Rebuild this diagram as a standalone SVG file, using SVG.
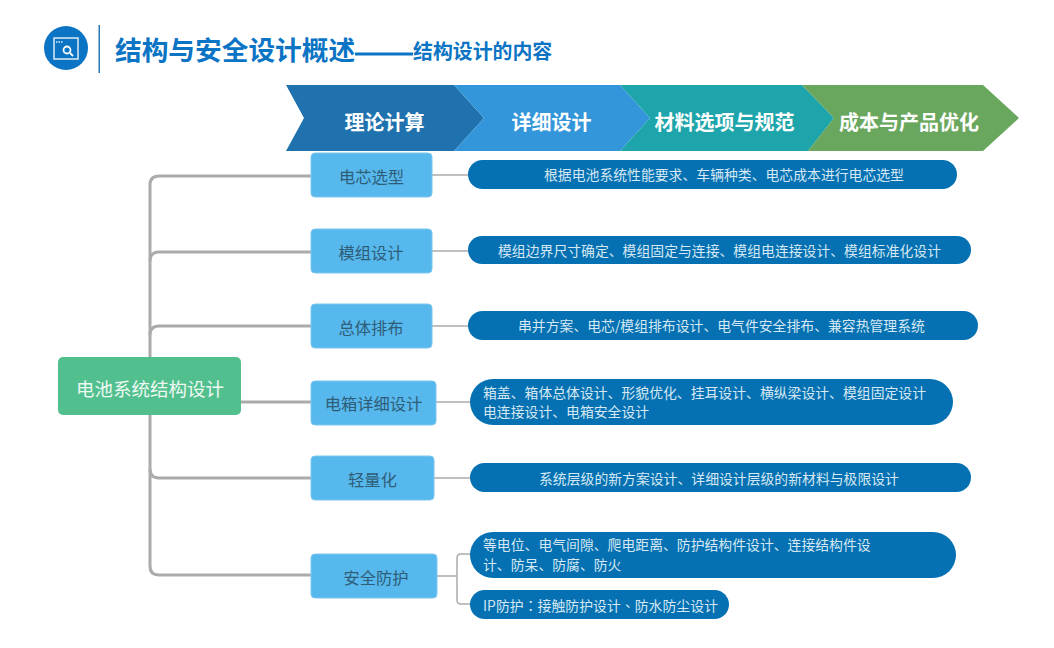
<svg xmlns="http://www.w3.org/2000/svg" width="1054" height="648" viewBox="0 0 1054 648">
<style>
text{font-family:"Noto Sans CJK SC","Liberation Sans",sans-serif}
.n{fill:#56b8ec;stroke:#7cc6ee;stroke-width:1}
.nt{font-size:16.3px;fill:#2f5d78;text-anchor:middle}
.p{fill:#0571b2}
.pt{font-size:13.85px;fill:#d6e8f3}
.c{font-size:20px;font-weight:700;fill:#fff;text-anchor:middle}
.tr{fill:none;stroke:#ababab;stroke-width:3}
.th{fill:none;stroke:#ababab;stroke-width:1.5}
</style>
<rect width="1054" height="648" fill="#fff"/>
<g id="header">
<circle cx="66" cy="48" r="22" fill="#0b74c4"/>
<rect x="54" y="38" width="24" height="21" fill="none" stroke="#dbeaf6" stroke-width="1.500"/>
<path d="M56 42h7" stroke="#dbeaf6" stroke-width="1.500" stroke-dasharray="1.500 1"/>
<circle cx="67" cy="50" r="3.500" fill="none" stroke="#fff" stroke-width="1.800"/>
<path d="M70 53l3 3" stroke="#fff" stroke-width="1.800"/>
<rect x="98.500" y="25" width="1.500" height="48" fill="#2a78b8"/>
<text x="115" y="60" font-size="26.700" font-weight="700" fill="#0b74c4">结构与安全设计概述</text>
<rect x="355" y="52.500" width="58" height="3" fill="#0b74c4"/>
<text x="413" y="59" font-size="19.900" font-weight="700" fill="#0b74c4">结构设计的内容</text>
</g>
<g id="chevrons">
<path d="M286 85H454L484 118L454 151H286L304 118Z" fill="#1f72ae"/>
<path d="M454 85H620L650 118L620 151H454L484 118Z" fill="#3496da"/>
<path d="M620 85H802L834 118L808 151H620L650 118Z" fill="#1ea5ab"/>
<path d="M802 85H983L1019 118L983 151H808L834 118Z" fill="#6aa75e"/>
<text class="c" x="384.500" y="130">理论计算</text>
<text class="c" x="551.500" y="130">详细设计</text>
<text class="c" x="724.500" y="130">材料选项与规范</text>
<text class="c" x="909" y="130">成本与产品优化</text>
</g>
<g id="connectors">
<path class="tr" d="M311 176H159Q150 176 150 185V566Q150 575 159 575H311"/>
<path class="tr" d="M150 261Q150 252 159 252H311"/>
<path class="tr" d="M150 335Q150 326 159 326H311"/>
<path class="tr" d="M241 402H311"/>
<path class="tr" d="M150 469Q150 478 159 478H311"/>
<path class="th" d="M432 175H468"/>
<path class="th" d="M432 251H468"/>
<path class="th" d="M432 326H468"/>
<path class="th" d="M436 402H470"/>
<path class="th" d="M434 478H470"/>
<path class="th" d="M437 576H457M472 554H461Q457 554 457 558V600Q457 604 461 604H472"/>
</g>
<g id="root"><rect x="58" y="357" width="183" height="58" rx="5" fill="#52c08e"/><text x="150" y="396" font-size="18.500" fill="#eef9f3" text-anchor="middle">电池系统结构设计</text></g>
<g id="n1"><rect class="n" x="311" y="153" width="121" height="44" rx="4"/><text class="nt" x="371.500" y="183">电芯选型</text></g>
<g id="n2"><rect class="n" x="311" y="229" width="121" height="44" rx="4"/><text class="nt" x="371" y="259">模组设计</text></g>
<g id="n3"><rect class="n" x="311" y="304" width="121" height="44" rx="4"/><text class="nt" x="371" y="334">总体排布</text></g>
<g id="n4"><rect class="n" x="311" y="381" width="125" height="44" rx="4"/><text class="nt" x="373.500" y="410">电箱详细设计</text></g>
<g id="n5"><rect class="n" x="311" y="456" width="123" height="44" rx="4"/><text class="nt" x="372.500" y="486">轻量化</text></g>
<g id="n6"><rect class="n" x="311" y="554" width="126" height="44" rx="4"/><text class="nt" x="376" y="584">安全防护</text></g>
<g id="d1"><rect class="p" x="468" y="160" width="489" height="29" rx="14.500"/><text class="pt" x="544" y="180">根据电池系统性能要求、车辆种类、电芯成本进行电芯选型</text></g>
<g id="d2"><rect class="p" x="468" y="236" width="503" height="28" rx="14"/><text class="pt" x="498" y="256">模组边界尺寸确定、模组固定与连接、模组电连接设计、模组标准化设计</text></g>
<g id="d3"><rect class="p" x="468" y="311" width="510" height="29" rx="14.500"/><text class="pt" x="518" y="331">串并方案、电芯/模组排布设计、电气件安全排布、兼容热管理系统</text></g>
<g id="d4"><rect class="p" x="470" y="379" width="483" height="46" rx="23"/><text class="pt" x="483" y="398">箱盖、箱体总体设计、形貌优化、挂耳设计、横纵梁设计、模组固定设计</text><text class="pt" x="483" y="417">电连接设计、电箱安全设计</text></g>
<g id="d5"><rect class="p" x="470" y="463" width="501" height="29" rx="14.500"/><text class="pt" x="539" y="484">系统层级的新方案设计、详细设计层级的新材料与极限设计</text></g>
<g id="d6"><rect class="p" x="470" y="532" width="486" height="46" rx="23"/><text class="pt" x="483" y="550">等电位、电气间隙、爬电距离、防护结构件设计、连接结构件设</text><text class="pt" x="483" y="570">计、防呆、防腐、防火</text></g>
<g id="d7"><rect class="p" x="470" y="590" width="259" height="29" rx="14.500"/><text class="pt" x="483" y="611" style="font-family:'Noto Sans CJK TC','Noto Sans CJK SC',sans-serif" textLength="235">IP防护：接触防护设计、防水防尘设计</text></g>
</svg>
